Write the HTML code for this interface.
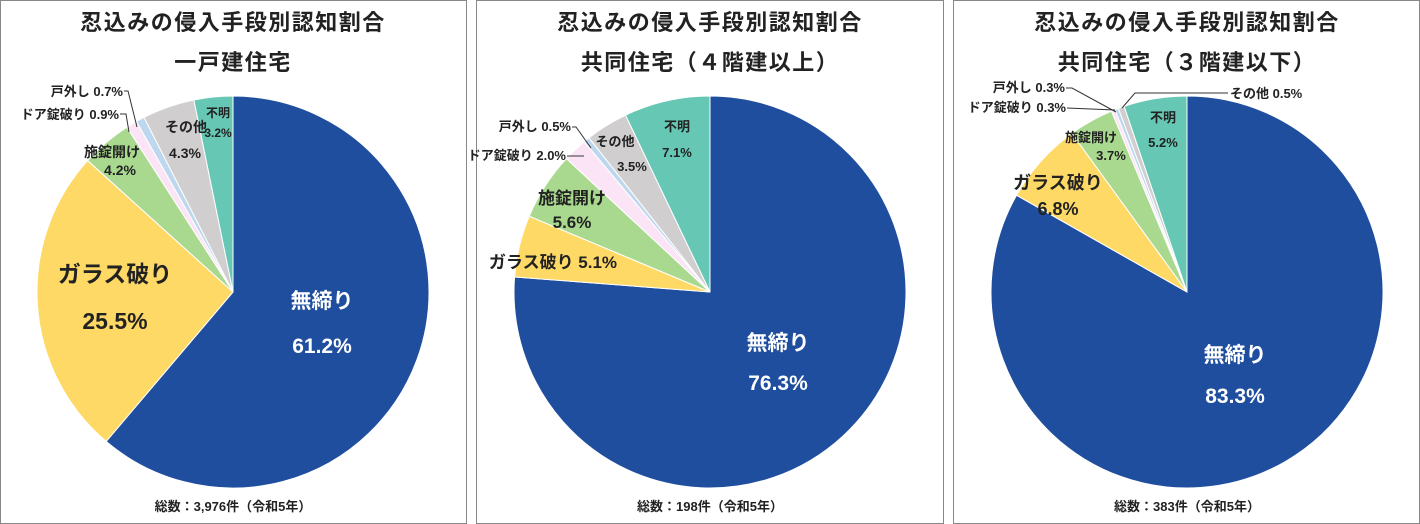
<!DOCTYPE html><html><head><meta charset="utf-8"><style>
body{margin:0;width:1420px;height:524px;background:#fff;overflow:hidden;font-family:"Liberation Sans","Noto Sans CJK JP",sans-serif;}
svg{display:block}
text{font-family:"Liberation Sans","Noto Sans CJK JP",sans-serif;font-weight:bold;text-anchor:middle;fill:#222}
text.e{text-anchor:end}
text.s{text-anchor:start}
text.w{fill:#fff}
.t text{letter-spacing:1.5px}
</style></head><body>
<svg id="s" width="1420" height="524" xmlns="http://www.w3.org/2000/svg">
<rect x="0.5" y="0.5" width="466" height="523" fill="none" stroke="#888"/>
<rect x="476.5" y="0.5" width="467" height="523" fill="none" stroke="#888"/>
<rect x="953.5" y="0.5" width="466" height="523" fill="none" stroke="#888"/>
<g id="pies"></g>
<g font-size="22" class="t">
<text x="233" y="30">忍込みの侵入手段別認知割合</text><text x="233" y="70">一戸建住宅</text>
<text x="710" y="30">忍込みの侵入手段別認知割合</text><text x="710" y="70">共同住宅（４階建以上）</text>
<text x="1187" y="30">忍込みの侵入手段別認知割合</text><text x="1187" y="70">共同住宅（３階建以下）</text>
</g>
<g font-size="13"><text x="233" y="511">総数：3,976件（令和5年）</text><text x="710" y="511">総数：198件（令和5年）</text><text x="1187" y="511">総数：383件（令和5年）</text></g>
<g font-size="21">
<text class="w" x="322" y="308">無締り</text><text class="w" x="322" y="353">61.2%</text>
<text class="w" x="778" y="350">無締り</text><text class="w" x="778" y="390">76.3%</text>
<text class="w" x="1235" y="362">無締り</text><text class="w" x="1235" y="403">83.3%</text>
</g>
<g font-size="23"><text x="115" y="282">ガラス破り</text><text x="115" y="329">25.5%</text></g>
<g font-size="14"><text x="112" y="157">施錠開け</text><text x="120" y="175">4.2%</text>
<text x="186" y="132">その他</text><text x="185" y="158">4.3%</text></g>
<g font-size="12"><text x="218" y="117">不明</text><text x="218" y="137">3.2%</text></g>
<g font-size="13"><text class="e" x="123" y="96">戸外し 0.7%</text><text class="e" x="119" y="119">ドア錠破り 0.9%</text>
<text class="e" x="571" y="131">戸外し 0.5%</text><text class="e" x="566" y="160">ドア錠破り 2.0%</text>
<text class="e" x="1065" y="92">戸外し 0.3%</text><text class="e" x="1066" y="112">ドア錠破り 0.3%</text>
<text class="s" x="1230" y="98">その他 0.5%</text></g>
<g fill="none" stroke="#333" stroke-width="1">
<polyline points="124,91 128,91 137,127"/><polyline points="120,114 126,114 129,132"/>
<polyline points="572,127 576,127 591,148"/><polyline points="567,156 572,156 584,156"/>
<polyline points="1066,88 1072,88 1116,112"/><polyline points="1067,108 1115,110"/>
<polyline points="1228,93 1135,93 1122,108"/>
</g>
<g font-size="17"><text x="553" y="268">ガラス破り 5.1%</text><text x="572" y="204">施錠開け</text><text x="572" y="228">5.6%</text></g>
<g font-size="13"><text x="615" y="146">その他</text><text x="632" y="171">3.5%</text><text x="677" y="131">不明</text><text x="677" y="157">7.1%</text>
<text x="1091" y="142">施錠開け</text><text x="1111" y="160">3.7%</text><text x="1163" y="122">不明</text><text x="1163" y="147">5.2%</text></g>
<g font-size="18"><text x="1058" y="189">ガラス破り</text><text x="1058" y="215">6.8%</text></g>
</svg>
<script>
var cols=["#1F4E9E","#FFD966","#A9D98E","#FCE4F7","#BDD7EE","#D0CECE","#66C8B4"];
var data=[[233,[61.2,25.5,4.2,0.9,0.7,4.3,3.2]],[710,[76.3,5.1,5.6,2.0,0.5,3.5,7.1]],[1187,[83.3,6.8,3.7,0.3,0.3,0.5,5.2]]];
var g=document.getElementById("pies"),h="";
data.forEach(function(d){var cx=d[0],cy=292,r=196,tot=d[1].reduce(function(a,b){return a+b}),a=0;
d[1].forEach(function(v,i){var a0=a/tot*2*Math.PI;a+=v;var a1=a/tot*2*Math.PI;
var x0=cx+r*Math.sin(a0),y0=cy-r*Math.cos(a0),x1=cx+r*Math.sin(a1),y1=cy-r*Math.cos(a1);
h+='<path d="M'+cx+','+cy+' L'+x0+','+y0+' A'+r+','+r+' 0 '+((a1-a0)>Math.PI?1:0)+' 1 '+x1+','+y1+' Z" fill="'+cols[i]+'" stroke="#fff" stroke-width="1"/>';});});
g.innerHTML=h;
</script>
</body></html>
